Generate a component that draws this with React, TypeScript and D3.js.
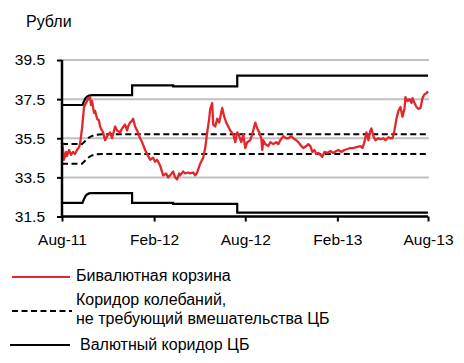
import React, { useEffect, useRef } from "react";
import * as d3 from "d3";

// ---- data ----
const START = new Date(2011, 7, 1);
const xTickLabels = ["2011-08-01", "2012-02-01", "2012-08-01", "2013-02-01", "2013-08-01"];
const yTickValues = [31.5, 33.5, 35.5, 37.5, 39.5];

// bi-currency basket: days since 2011-08-01, rubles
const basketDay = [0, 2, 4, 8, 10, 14, 18, 22, 26, 30, 34, 36, 40, 44, 48, 52, 56, 58, 60, 64, 66, 70, 74, 76, 80, 82, 86, 90, 96, 100, 106, 110, 116, 120, 126, 130, 132, 136, 140, 142, 146, 150, 156, 160, 166, 172, 176, 182, 186, 190, 196, 202, 208, 212, 216, 222, 226, 230, 234, 236, 242, 246, 252, 256, 262, 266, 270, 276, 282, 286, 290, 294, 296, 300, 302, 306, 310, 314, 320, 324, 328, 332, 336, 342, 346, 350, 354, 358, 362, 366, 370, 376, 380, 386, 390, 394, 398, 400, 402, 406, 412, 416, 422, 428, 432, 436, 442, 448, 452, 458, 462, 468, 472, 478, 482, 488, 492, 496, 500, 504, 508, 512, 516, 520, 524, 530, 536, 542, 548, 552, 558, 564, 570, 576, 582, 588, 596, 600, 604, 608, 612, 616, 618, 622, 626, 632, 636, 642, 646, 652, 656, 660, 664, 668, 672, 676, 680, 684, 686, 690, 694, 698, 700, 704, 708, 712, 716, 720, 724, 728, 731];
const basketValue = [35.3, 34.9, 34.4, 34.8, 34.6, 34.9, 34.65, 34.8, 34.7, 34.9, 35.05, 35.2, 36.0, 37.1, 37.3, 37.5, 37.6, 37.2, 37.4, 36.8, 36.9, 36.5, 36.4, 36.1, 35.9, 35.8, 35.4, 35.6, 35.8, 35.5, 36.1, 35.9, 35.8, 36.0, 36.2, 35.9, 36.1, 36.3, 36.4, 36.5, 36.1, 35.9, 35.5, 35.3, 34.9, 34.6, 34.4, 34.5, 34.3, 34.4, 34.1, 33.6, 33.7, 33.5, 33.6, 33.8, 33.5, 33.4, 33.7, 33.6, 33.8, 33.7, 33.75, 33.7, 33.75, 33.6, 33.75, 34.2, 34.5, 35.0, 35.8, 36.5, 37.0, 37.3, 36.2, 36.1, 36.5, 36.3, 37.05, 36.6, 36.3, 36.1, 35.9, 35.7, 35.3, 35.8, 35.6, 35.3, 35.7, 35.0, 35.3, 35.4, 35.7, 36.3, 36.0, 35.8, 35.5, 34.9, 35.4, 35.2, 35.1, 35.3, 35.2, 35.3, 35.2, 35.4, 35.6, 35.5, 35.5, 35.6, 35.5, 35.4, 35.3, 35.1, 35.0, 35.1, 35.2, 35.1, 34.8, 34.9, 34.7, 34.75, 34.65, 34.55, 34.8, 34.75, 34.85, 34.75, 34.85, 34.9, 34.8, 34.9, 34.95, 35.0, 35.0, 35.05, 35.1, 35.0, 35.3, 35.8, 35.4, 35.9, 36.0, 35.6, 35.4, 35.5, 35.45, 35.5, 35.4, 35.55, 35.5, 35.5, 35.9, 36.5, 36.9, 37.1, 36.6, 37.0, 37.6, 37.4, 37.5, 37.3, 37.55, 37.3, 37.1, 37.0, 37.05, 37.55, 37.75, 37.8, 37.9];

// CBR currency corridor (outer band)
const outerDay = [0, 41, 44, 47, 50, 54, 60, 140, 140, 222, 222, 350, 350, 731];
const outerUpper = [37.2, 37.2, 37.4, 37.55, 37.63, 37.68, 37.7, 37.7, 38.2, 38.2, 38.15, 38.15, 38.7, 38.7];
const outerLower = [32.2, 32.2, 32.4, 32.55, 32.63, 32.68, 32.7, 32.7, 32.2, 32.2, 32.15, 32.15, 31.7, 31.7];

// fluctuation corridor not requiring CBR intervention (inner band)
const innerDay = [0, 40, 46, 52, 58, 66, 80, 731];
const innerUpper = [35.2, 35.2, 35.35, 35.5, 35.6, 35.67, 35.7, 35.7];
const innerLower = [34.2, 34.2, 34.35, 34.5, 34.6, 34.67, 34.7, 34.7];

const legendLabels = ["Бивалютная корзина", "Коридор колебаний,", "не требующий вмешательства ЦБ", "Валютный коридор ЦБ"];
const yTitle = "Рубли";

const FONT = "'Liberation Sans', Arial, sans-serif";
const RED = "#e3262b";

export default function App() {
  const axRef = useRef<SVGGElement>(null);

  const x = d3.scaleTime().domain([START, new Date(2013, 7, 1)]).range([62, 428]);
  const y = d3.scaleLinear().domain([31.5, 39.5]).range([216.5, 60]);
  const parse = d3.timeParse("%Y-%m-%d");
  const dayDate = (d: number) => d3.timeDay.offset(START, d);

  const mk = (days: number[], vals: number[]) =>
    d3.line<number>().x((_, i) => x(dayDate(days[i]))).y((v) => y(v))(vals) || "";

  useEffect(() => {
    const g = d3.select(axRef.current);
    g.selectAll("*").remove();
    const ya = g.append("g").attr("transform", "translate(62,0)")
      .call(d3.axisLeft(y).tickValues(yTickValues).tickFormat(d3.format(".1f")).tickSize(5).tickPadding(12));
    const xa = g.append("g").attr("transform", "translate(0,216.5)")
      .call(d3.axisBottom(x).tickValues(xTickLabels.map((s) => parse(s)!)).tickFormat(d3.timeFormat("%b-%y") as any).tickSize(5).tickPadding(12));
    [ya, xa].forEach((a) => {
      a.selectAll("path.domain").attr("stroke", "#000").attr("stroke-width", 2.5);
      a.selectAll(".tick line").attr("stroke", "#000").attr("stroke-width", 2);
      a.selectAll("text").attr("font-family", FONT).attr("font-size", 15.5).attr("fill", "#000");
    });
    ya.select("path.domain").attr("d", `M0,${y(39.5)}V${y(31.5)}`);
    xa.select("path.domain").attr("d", `M${x.range()[0]},0H${x.range()[1]}`);
  }, []);

  return (
    <svg width={464} height={363} style={{ position: "absolute", left: 0, top: 0, background: "#fff" }}>
      <text x={26} y={27} fontFamily={FONT} fontSize={16}>{yTitle}</text>
      {yTickValues.slice(1).map((v) => (
        <line key={v} x1={62} x2={429} y1={y(v)} y2={y(v)} stroke="#c0c0c0" strokeWidth={2} />
      ))}
      <path d={mk(outerDay, outerUpper)} fill="none" stroke="#000" strokeWidth={2.2} />
      <path d={mk(outerDay, outerLower)} fill="none" stroke="#000" strokeWidth={2.2} />
      <path d={mk(innerDay, innerUpper)} fill="none" stroke="#000" strokeWidth={2} strokeDasharray="6,3.5" />
      <path d={mk(innerDay, innerLower)} fill="none" stroke="#000" strokeWidth={2} strokeDasharray="6,3.5" />
      <path d={mk(basketDay, basketValue)} fill="none" stroke={RED} strokeWidth={2.3} strokeLinejoin="round" />
      <g ref={axRef} />
      <g fontFamily={FONT} fontSize={16} fill="#000">
        <line x1={12} x2={70} y1={277} y2={277} stroke={RED} strokeWidth={2.2} />
        <text x={76} y={281}>{legendLabels[0]}</text>
        <line x1={12} x2={72} y1={311} y2={311} stroke="#000" strokeWidth={2} strokeDasharray="6,3.5" />
        <text x={76} y={305}>{legendLabels[1]}</text>
        <text x={76} y={324}>{legendLabels[2]}</text>
        <line x1={10} x2={70} y1={345} y2={345} stroke="#000" strokeWidth={2.2} />
        <text x={80} y={350}>{legendLabels[3]}</text>
      </g>
    </svg>
  );
}
